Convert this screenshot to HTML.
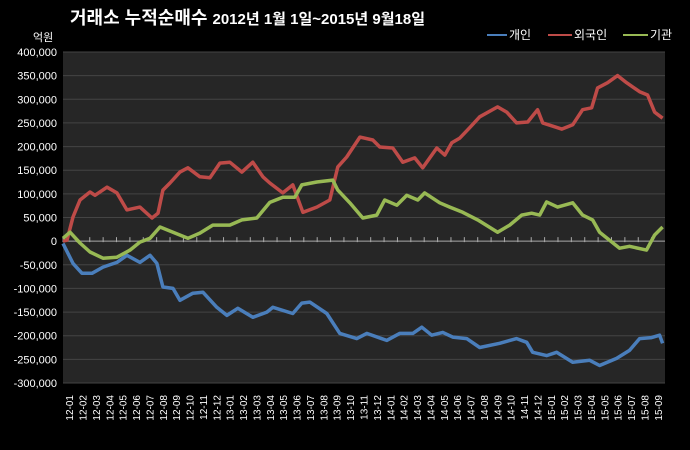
<!DOCTYPE html>
<html><head><meta charset="utf-8"><style>
body{margin:0;background:#000;}
svg{display:block;font-family:"Liberation Sans","Noto Sans CJK KR",sans-serif;}
</style></head><body>
<svg id="chart" width="690" height="450" viewBox="0 0 690 450" xmlns="http://www.w3.org/2000/svg">
<rect width="690" height="450" fill="#000"/>
<text x="70" y="24" fill="#fff" font-size="18" font-weight="bold">거래소 누적순매수 <tspan font-size="15">2012년 1월 1일~2015년 9월18일</tspan></text>
<text x="33" y="41" fill="#fff" font-size="11">억원</text>
<rect x="63" y="52" width="602" height="331" fill="#262626"/>
<g id="grid"></g><g id="yt"></g><g id="xt"></g><g id="series"></g>
<g>
<line x1="487" y1="35" x2="507" y2="35" stroke="#4a7ebb" stroke-width="2"/>
<text x="509" y="39" fill="#fff" font-size="12">개인</text>
<line x1="548" y1="35" x2="572" y2="35" stroke="#be4b48" stroke-width="2"/>
<text x="574" y="39" fill="#fff" font-size="12">외국인</text>
<line x1="623" y1="35" x2="648" y2="35" stroke="#98b954" stroke-width="2"/>
<text x="650" y="39" fill="#fff" font-size="12">기관</text>
</g>
</svg>
<script>
const categories=["12-01","12-02","12-03","12-04","12-05","12-06","12-07","12-08","12-09","12-10","12-11","12-12","13-01","13-02","13-03","13-04","13-05","13-06","13-07","13-08","13-09","13-10","13-11","13-12","14-01","14-02","14-03","14-04","14-05","14-06","14-07","14-08","14-09","14-10","14-11","14-12","15-01","15-02","15-03","15-04","15-05","15-06","15-07","15-08","15-09"];
const yTicks=[400000,350000,300000,250000,200000,150000,100000,50000,0,-50000,-100000,-150000,-200000,-250000,-300000];
const blueT=[0,0.75,1.42,2.17,2.99,4.03,4.78,5.75,6.5,7.02,7.47,8.22,8.74,9.71,10.46,11.5,12.25,13.07,14.19,15.24,15.69,17.18,17.85,18.45,19.72,20.69,21.96,22.71,24.2,25.17,26.15,26.82,27.56,28.39,29.13,30.18,31.15,32.64,33.91,34.66,35.11,36.15,36.9,38.1,39.37,40.11,41.38,42.35,43.1,44.0,44.6,44.82];
const blueV=[-5,-47,-68,-68,-55,-45,-30,-45,-30,-47,-97,-100,-125,-110,-108,-140,-157,-142,-161,-150,-140,-153,-131,-129,-153,-195,-206,-195,-210,-195,-195,-182,-199,-193,-203,-206,-225,-216,-206,-214,-235,-242,-235,-256,-252,-263,-248,-231,-206,-204,-199,-216];
const redT=[0,0.3,0.75,1.27,2.02,2.39,3.29,4.03,4.78,5.75,6.65,7.1,7.47,8.0,8.74,9.34,10.23,10.98,11.73,12.47,13.37,14.19,14.94,15.46,16.43,17.18,17.93,18.97,19.94,20.54,21.21,22.19,23.16,23.68,24.65,25.4,26.29,26.89,27.94,28.54,29.06,29.66,30.4,31.15,32.49,33.17,33.91,34.74,35.48,35.86,37.28,38.1,38.84,39.52,39.96,40.71,41.46,42.13,43.1,43.7,44.22,44.82];
const redV=[0,2,51,87,104,97,114,102,66,72,49,59,108,123,146,155,136,134,165,167,146,167,136,123,102,119,61,72,87,157,178,220,214,199,197,167,176,155,197,182,208,218,240,263,284,273,250,252,278,250,237,246,278,282,324,335,350,335,316,309,273,260];
const greenT=[0,0.52,1.27,2.02,2.99,4.03,5.01,5.75,6.5,7.25,8.22,9.34,10.23,11.2,12.47,13.37,14.49,15.46,16.43,17.33,17.85,18.97,20.17,20.54,21.44,22.41,23.46,24.05,24.95,25.7,26.52,27.04,28.16,28.91,29.88,31.0,32.49,33.39,34.29,35.03,35.63,36.15,36.97,38.1,38.84,39.59,40.11,41.61,42.35,43.62,44.22,44.82];
const greenV=[6,19,-4,-23,-36,-34,-19,-2,6,30,19,6,17,34,34,45,49,82,93,93,119,125,129,108,81,49,55,87,76,97,87,102,81,72,61,45,19,34,55,59,55,83,72,81,55,45,19,-15,-11,-19,13,30];
const NS="http://www.w3.org/2000/svg";
const X0=63,X1=665,Y0=52,Y1=383;
function xs(m){return X0+m*(X1-X0)/categories.length;}
function ys(v){return Y1-(v+300000)*(Y1-Y0)/700000;}
function mk(t,a,p){const e=document.createElementNS(NS,t);for(const k in a)e.setAttribute(k,a[k]);p.appendChild(e);return e;}
const grid=document.getElementById('grid'),yt=document.getElementById('yt'),xt=document.getElementById('xt'),ser=document.getElementById('series');
yTicks.forEach(v=>{
  if(v!==0){const l=mk('line',{x1:X0,x2:X1,y1:ys(v),y2:ys(v),stroke:'#444','stroke-width':1},grid);
  
  }
  const t=mk('text',{x:57,y:ys(v)+4,fill:'#fff','font-size':11,'text-anchor':'end'},yt);
  t.textContent=v.toLocaleString('en-US');
  
  
});
const ax=mk('line',{x1:X0,x2:X1,y1:ys(0),y2:ys(0),stroke:'#aaa','stroke-width':1},xt);


categories.forEach((c,i)=>{
  const tk=mk('line',{x1:xs(i),x2:xs(i),y1:ys(0)-4,y2:ys(0)+1,stroke:'#aaa','stroke-width':1},xt);
  
  
  const cx=xs(i+0.5);
  const t=mk('text',{x:0,y:0,fill:'#fff','font-size':10,'text-anchor':'end',transform:`translate(${cx+3.5},395) rotate(-90)`},xt);
  t.textContent=c;
  
  
});
function line(T,V,col,name){
  const d=T.map((m,i)=>(i?'L':'M')+xs(m).toFixed(1)+','+ys(V[i]*1000).toFixed(1)).join(' ');
  const p=mk('path',{d:d,fill:'none',stroke:col,'stroke-width':3.5,'stroke-linejoin':'round'},ser);
  
  
}
line(blueT,blueV,'#4a7ebb','series-individual');
line(redT,redV,'#be4b48','series-foreign');
line(greenT,greenV,'#98b954','series-institution');
</script>
</body></html>
